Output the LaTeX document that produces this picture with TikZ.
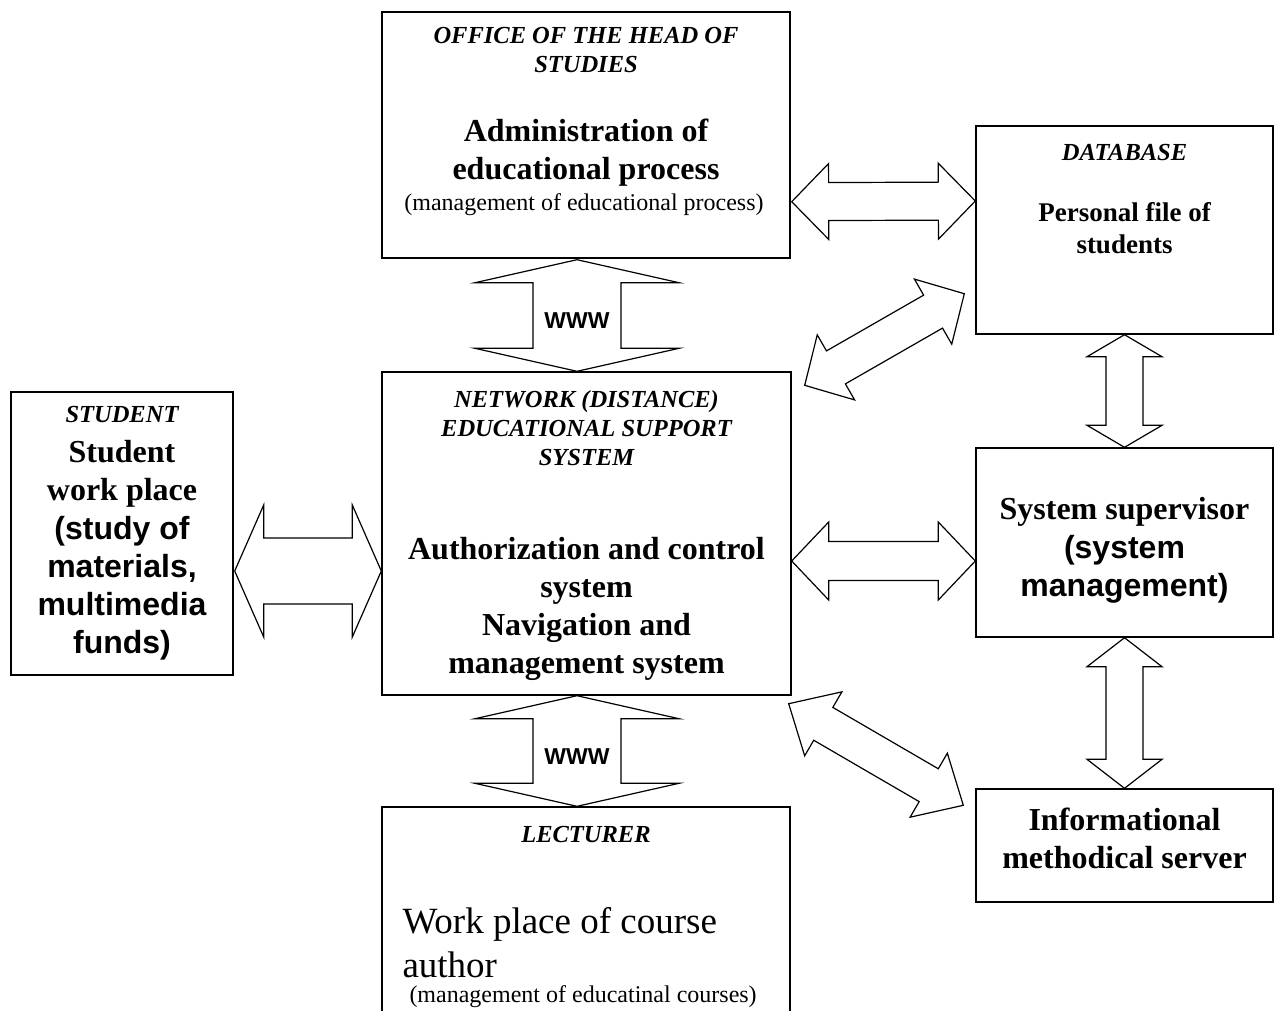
\documentclass[tikz,border=0pt]{standalone}
\usepackage{fontspec}
\setmainfont{Liberation Serif}
\setsansfont{Liberation Sans}
\usetikzlibrary{calc,positioning}

% hollow double arrow: ends, shaft half width, head half width, head length
\newcommand{\dblarrow}[5]{%
  \coordinate (da1) at ($(#1)!#5!(#2)$);
  \coordinate (da2) at ($(#2)!#5!(#1)$);
  \draw[fatarrow] (#1) -- ($(da1)!#4!90:(#2)$) -- ($(da1)!#3!90:(#2)$)
    -- ($(da2)!#3!-90:(#1)$) -- ($(da2)!#4!-90:(#1)$) -- (#2)
    -- ($(da2)!#4!90:(#1)$) -- ($(da2)!#3!90:(#1)$)
    -- ($(da1)!#3!-90:(#2)$) -- ($(da1)!#4!-90:(#2)$) -- cycle;}

\begin{document}
\begin{tikzpicture}[x=1pt,y=-1pt,
  box/.style={draw,line width=1.4pt,inner sep=0pt},
  fatarrow/.style={draw,line width=1.2pt,line join=miter,fill=white},
  caps/.style={inner sep=0pt,align=center,font=\fontsize{24.5}{29}\selectfont\bfseries\itshape},
  bold/.style={inner sep=0pt,align=center,font=\fontsize{32}{38}\selectfont\bfseries},
  boldsans/.style={inner sep=0pt,align=center,font=\fontsize{32}{38}\selectfont\sffamily\bfseries},
  small/.style={inner sep=0pt,font=\fontsize{24}{28}\selectfont},
  www/.style={inner sep=0pt,font=\fontsize{23}{27}\selectfont\sffamily\bfseries}]
  \clip (0,0) rectangle (1276,1010);
  \fill[white] (0,0) rectangle (1276,1010);
  % Boxes
  \node[box,minimum width=408pt,minimum height=246pt] (office) at (586,135) {};
  \node[box,minimum width=409pt,minimum height=323pt] (net) at (586.5,533.5) {};
  \node[box,minimum width=408pt,minimum height=223pt] (lect) at (586,918.5) {};
  \node[box,minimum width=222pt,minimum height=283pt] (stud) at (122,533.5) {};
  \node[box,minimum width=297pt,minimum height=208pt] (db) at (1124.5,230) {};
  \node[box,minimum width=297pt,minimum height=189pt] (sup) at (1124.5,542.5) {};
  \node[box,minimum width=297pt,minimum height=113pt] (info) at (1124.5,845.5) {};
  % Office of the head of studies
  \node[caps] (officecap) at ($(office.north)+(0,39)$) {OFFICE OF THE HEAD OF\\STUDIES};
  \node[bold] (officetxt) at ($(office.north)+(0,141)$) {Administration of\\educational process};
  \node[small] (officesub) at ($(office.north)+(-2,193)$) {(management of educational process)};
  % Network system
  \node[caps] (netcap) at ($(net.north)+(0,57)$) {NETWORK (DISTANCE)\\EDUCATIONAL SUPPORT\\SYSTEM};
  \node[bold] (nettxt) at ($(net.north)+(0,238)$) {Authorization and control\\system\\Navigation and\\management system};
  % Student
  \node[caps] (studcap) at ($(stud.north)+(0,23)$) {STUDENT};
  \node[bold] (studtxt) at ($(stud.north)+(0,82)$) {Student\\work place};
  \node[boldsans] (studsub) at ($(stud.north)+(0,197)$) {(study of\\materials,\\multimedia\\funds)};
  % Database
  \node[caps] (dbcap) at ($(db.north)+(0,27)$) {DATABASE};
  \node[bold,font=\fontsize{27}{32}\selectfont\bfseries] (dbtxt) at ($(db.north)+(0,103)$) {Personal file of\\students};
  % System supervisor
  \node[bold] (suptxt) at ($(sup.north)+(0,65)$) {System supervisor};
  \node[boldsans] (supsub) at ($(sup.north)+(0,122)$) {(system\\management)};
  % Informational server
  \node[bold] (infotxt) at ($(info.north)+(0,50)$) {Informational\\methodical server};
  % Lecturer
  \node[caps] (lectcap) at ($(lect.north)+(0,28)$) {LECTURER};
  \node[anchor=west,inner sep=0pt,align=left,font=\fontsize{37}{44}\selectfont] (lecttxt) at ($(lect.north west)+(21,136)$) {Work place of course\\author};
  \node[small,anchor=west] (lectsub) at ($(lect.north west)+(28,190)$) {(management of educatinal courses)};
  % Connector ends
  \coordinate (wA) at ($(office.south)+(-9,1)$);
  \coordinate (wB) at ($(net.north)+(-9.5,0)$);
  \coordinate (wC) at ($(net.south)+(-9.5,0)$);
  \coordinate (wD) at ($(lect.north)+(-9,0)$);
  \coordinate (odA) at ($(office.south east)+(1,-57)$);
  \coordinate (odB) at ($(db.west)+(0,-29)$);
  \coordinate (snA) at ($(stud.east)+(1,37.5)$);
  \coordinate (snB) at ($(net.west)+(0,37.5)$);
  \coordinate (nsA) at ($(net.east)+(0,27.5)$);
  \coordinate (nsB) at ($(sup.west)+(0,18.5)$);
  \coordinate (d1A) at ($(net.north east)+(13,14)$);
  \coordinate (d1B) at ($(db.south west)+(-11,-41)$);
  \coordinate (d2A) at ($(net.south east)+(-3,8)$);
  \coordinate (d2B) at ($(info.north west)+(-12,17)$);
  % Double arrows
  \dblarrow{wA}{wB}{44pt}{102pt}{23pt}
  \dblarrow{wC}{wD}{44pt}{102pt}{23pt}
  \dblarrow{odA}{odB}{19pt}{38pt}{37pt}
  \dblarrow{snA}{snB}{33pt}{66pt}{29pt}
  \dblarrow{nsA}{nsB}{19.5pt}{39pt}{37pt}
  \dblarrow{db.south}{sup.north}{18.5pt}{37.5pt}{22pt}
  \dblarrow{sup.south}{info.north}{18.5pt}{37.5pt}{29pt}
  \dblarrow{d1A}{d1B}{19pt}{37.5pt}{36pt}
  \dblarrow{d2A}{d2B}{19pt}{37pt}{40pt}
  \node[www] (www1) at ($(wA)!0.5!(wB)+(0,5)$) {WWW};
  \node[www] (www2) at ($(wC)!0.5!(wD)+(0,6)$) {WWW};
\end{tikzpicture}
\end{document}
